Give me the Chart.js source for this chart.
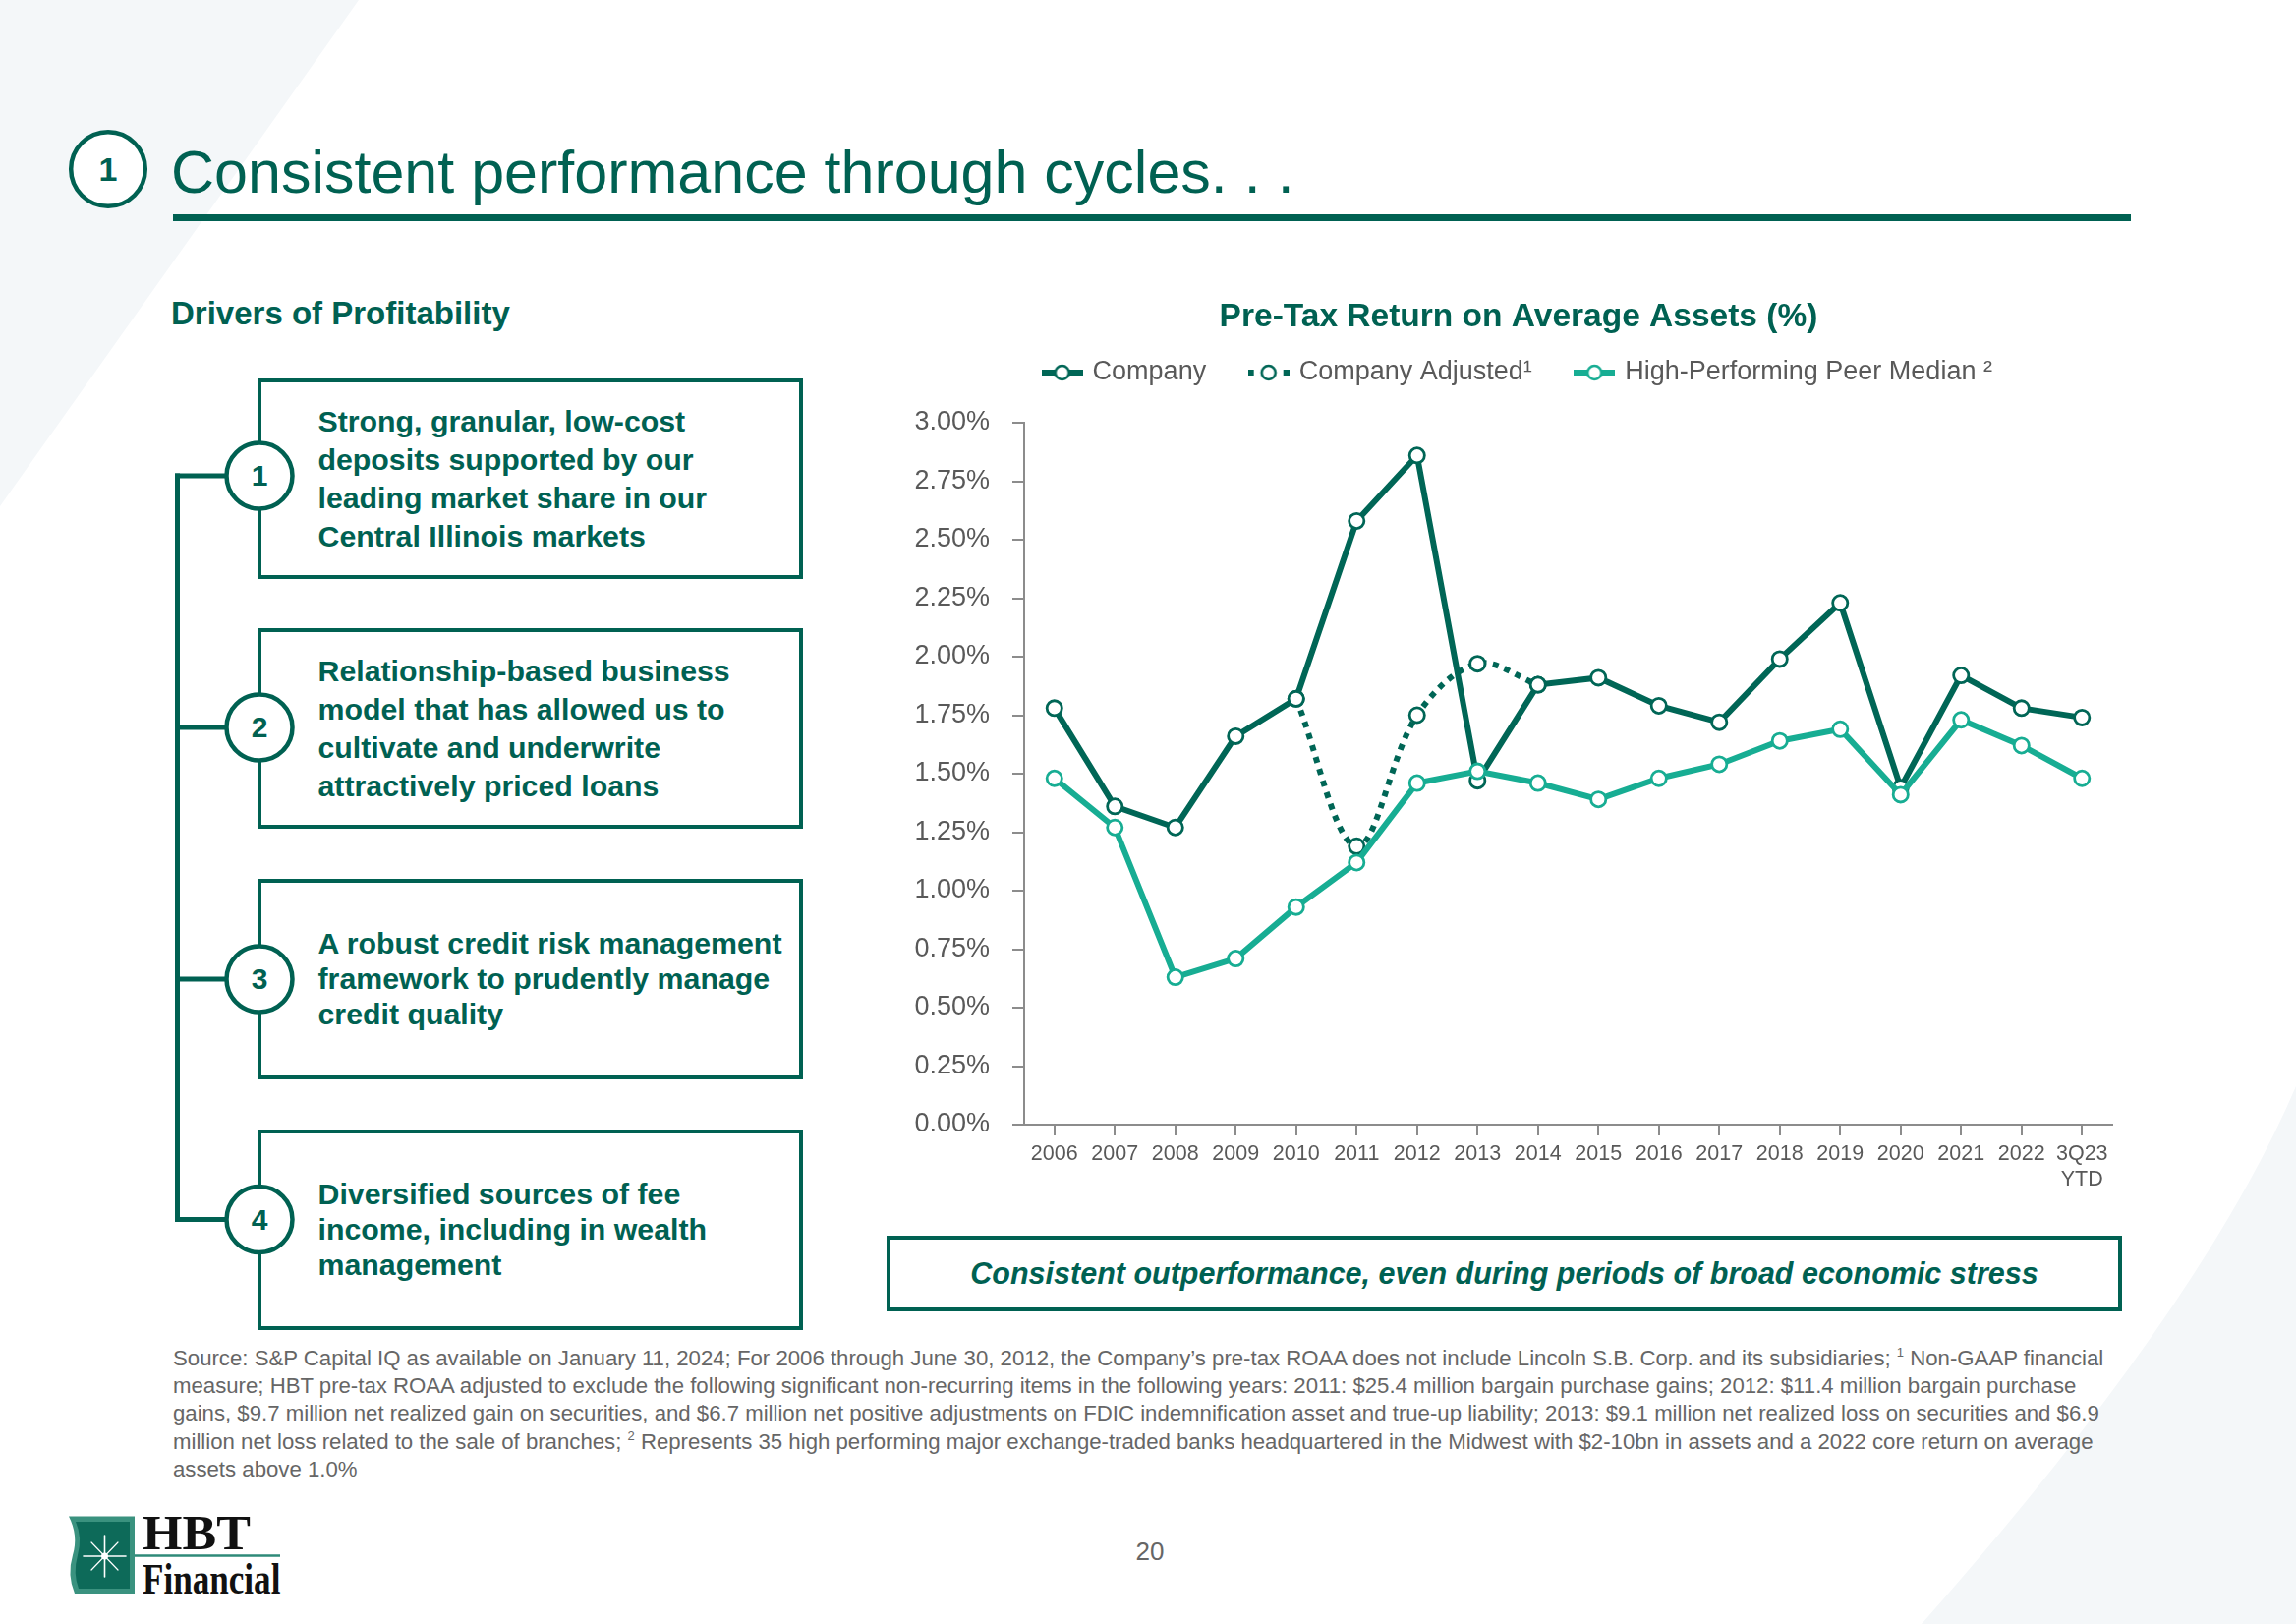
<!DOCTYPE html>
<html>
<head>
<meta charset="utf-8">
<title>Consistent performance through cycles</title>
<script src="https://cdn.jsdelivr.net/npm/chart.js@4/dist/chart.umd.min.js"></script>
<style>
  html, body { margin:0; padding:0; background:#ffffff; }
  #page { position:relative; width:2336px; height:1652px; overflow:hidden; background:#ffffff; font-family:"Liberation Sans", Arial, sans-serif; color:#006152; }
  .abs { position:absolute; }
  .title { left:174px; top:145px; font-size:61px; line-height:61px; white-space:nowrap; color:#006152; }
  .rule { left:176px; top:218px; width:1992px; height:7px; background:#006152; }
  .subhead { left:174px; top:302px; font-size:33px; line-height:33px; font-weight:bold; white-space:nowrap; color:#006152; }
  .driver { left:261.5px; width:555px; height:204px; box-sizing:border-box; border:4.5px solid #006152; background:#fff; display:flex; align-items:center; }
  .driver div { margin-left:58px; font-size:30.3px; font-weight:bold; white-space:nowrap; color:#006152; }
  .num { width:60px; height:40px; margin-left:-30px; margin-top:-20px; text-align:center; font-size:30px; line-height:40px; font-weight:bold; color:#006152; }
  .callout { left:902px; top:1257px; width:1257px; height:77px; box-sizing:border-box; border:4px solid #006152; display:flex; align-items:center; justify-content:center; font-size:30.5px; font-weight:bold; font-style:italic; color:#006152; white-space:nowrap; }
  .foot { left:176px; top:1368px; font-size:22.2px; line-height:28.2px; color:#666666; white-space:nowrap; }
  .foot sup { font-size:13px; line-height:0; vertical-align:9px; }
  .pageno { left:1130px; top:1565px; width:80px; text-align:center; font-size:26px; line-height:26px; color:#666666; }
  .logo1 { left:145px; top:1534px; font-family:"Liberation Serif", "Times New Roman", serif; font-weight:bold; font-size:51px; line-height:51px; color:#111; transform:scaleX(1.02); transform-origin:left top; white-space:nowrap; }
  .logo2 { left:145px; top:1584px; font-family:"Liberation Serif", "Times New Roman", serif; font-weight:bold; font-size:45px; line-height:45px; color:#111; transform:scaleX(0.78); transform-origin:left top; white-space:nowrap; }
  #chartWrap { left:900px; top:283px; width:1284px; height:931px; }
</style>
</head>
<body>
<div id="page">
  <svg class="abs" style="left:0;top:0" width="2336" height="1652">
    <polygon points="0,0 365,0 0,515" fill="#f4f7f9"/>
    <path d="M2336 1105 Q2240 1330 1955 1652 L2336 1652 Z" fill="#f4f7f9"/>
  </svg>

  <svg class="abs" style="left:0;top:0" width="300" height="260">
    <circle cx="110" cy="172" r="37.8" fill="#ffffff" stroke="#006152" stroke-width="4.5"/>
  </svg>
  <div class="abs" style="left:80px;top:152px;width:60px;text-align:center;font-size:34px;line-height:40px;font-weight:bold;color:#006152;">1</div>
  <div class="abs title">Consistent performance through cycles. . .</div>
  <div class="abs rule"></div>
  <div class="abs subhead">Drivers of Profitability</div>

  <div class="abs driver" style="top:385px;"><div style="line-height:39px;">Strong, granular, low-cost<br>deposits supported by our<br>leading market share in our<br>Central Illinois markets</div></div>
  <div class="abs driver" style="top:638.5px;"><div style="line-height:39px;">Relationship-based business<br>model that has allowed us to<br>cultivate and underwrite<br>attractively priced loans</div></div>
  <div class="abs driver" style="top:894px;"><div style="line-height:36px;">A robust credit risk management<br>framework to prudently manage<br>credit quality</div></div>
  <div class="abs driver" style="top:1148.5px;"><div style="line-height:36px;">Diversified sources of fee<br>income, including in wealth<br>management</div></div>

  <svg class="abs" style="left:0;top:0" width="340" height="1300">
    <line x1="180.5" y1="481.5" x2="180.5" y2="1243" stroke="#006152" stroke-width="5"/>
    <line x1="178" y1="484" x2="232" y2="484" stroke="#006152" stroke-width="5"/>
    <line x1="178" y1="740" x2="232" y2="740" stroke="#006152" stroke-width="5"/>
    <line x1="178" y1="996" x2="232" y2="996" stroke="#006152" stroke-width="5"/>
    <line x1="178" y1="1240.5" x2="232" y2="1240.5" stroke="#006152" stroke-width="5"/>
    <circle cx="264" cy="484" r="33.5" fill="#ffffff" stroke="#006152" stroke-width="4.5"/>
    <circle cx="264" cy="740" r="33.5" fill="#ffffff" stroke="#006152" stroke-width="4.5"/>
    <circle cx="264" cy="996" r="33.5" fill="#ffffff" stroke="#006152" stroke-width="4.5"/>
    <circle cx="264" cy="1240.5" r="33.5" fill="#ffffff" stroke="#006152" stroke-width="4.5"/>
  </svg>
  <div class="abs num" style="left:264px;top:484px;">1</div>
  <div class="abs num" style="left:264px;top:740px;">2</div>
  <div class="abs num" style="left:264px;top:996px;">3</div>
  <div class="abs num" style="left:264px;top:1240.5px;">4</div>

  <div class="abs" id="chartWrap"><canvas id="chart" width="1284" height="931"></canvas></div>

  <div class="abs callout">Consistent outperformance, even during periods of broad economic stress</div>

  <div class="abs foot">Source: S&amp;P Capital IQ as available on January 11, 2024; For 2006 through June 30, 2012, the Company’s pre-tax ROAA does not include Lincoln S.B. Corp. and its subsidiaries; <sup>1</sup> Non-GAAP financial<br>measure; HBT pre-tax ROAA adjusted to exclude the following significant non-recurring items in the following years: 2011: $25.4 million bargain purchase gains; 2012: $11.4 million bargain purchase<br>gains, $9.7 million net realized gain on securities, and $6.7 million net positive adjustments on FDIC indemnification asset and true-up liability; 2013: $9.1 million net realized loss on securities and $6.9<br>million net loss related to the sale of branches; <sup>2</sup> Represents 35 high performing major exchange-traded banks headquartered in the Midwest with $2-10bn in assets and a 2022 core return on average<br>assets above 1.0%</div>

  <div class="abs pageno">20</div>

  <svg class="abs" style="left:0;top:1500px" width="320" height="152">
    <path d="M70 42.5 L137 42.5 L137 121 L76 121 Q68 102 74 82 Q80 62 70 42.5 Z" fill="#3a927f"/>
    <path d="M77 48 L132 48 L132 116 L80 116 Q74 100 79 82 Q84 64 77 48 Z" fill="#0d6a59"/>
    <g stroke="#ffffff" stroke-linecap="round">
      <line x1="106.5" y1="62" x2="106.5" y2="104" stroke-width="1.6"/>
      <line x1="85" y1="83" x2="128" y2="83" stroke-width="1.6"/>
      <line x1="93" y1="69" x2="120" y2="97" stroke-width="1.2"/>
      <line x1="120" y1="69" x2="93" y2="97" stroke-width="1.2"/>
    </g>
    <circle cx="106.5" cy="83" r="3.5" fill="#ffffff"/>
    <line x1="137" y1="82.5" x2="285" y2="82.5" stroke="#2e8a78" stroke-width="2.5"/>
  </svg>
  <div class="abs logo1">HBT</div>
  <div class="abs logo2">Financial</div>
</div>

<script>
// ---- data ----
const categories = ['2006','2007','2008','2009','2010','2011','2012','2013','2014','2015','2016','2017','2018','2019','2020','2021','2022',['3Q23','YTD']];
const companyValues  = [1.78, 1.36, 1.27, 1.66, 1.82, 2.58, 2.86, 1.47, 1.88, 1.91, 1.79, 1.72, 1.99, 2.23, 1.44, 1.92, 1.78, 1.74];
const adjustedValues = [null, null, null, null, 1.82, 1.19, 1.75, 1.97, 1.88, null, null, null, null, null, null, null, null, null];
const peerValues     = [1.48, 1.27, 0.63, 0.71, 0.93, 1.12, 1.46, 1.51, 1.46, 1.39, 1.48, 1.54, 1.64, 1.69, 1.41, 1.73, 1.62, 1.48];
const seriesNames = ['Company', 'Company Adjusted\u00B9', 'High-Performing Peer Median \u00B2'];
const chartTitle = 'Pre-Tax Return on Average Assets (%)';
const yMin = 0, yMax = 3, yStep = 0.25;

// ---- style ----
const DARK = '#006656';
const TEAL = '#17ad93';
const AXIS = '#8c8c8c';
const LABEL = '#595959';
const FONT = "'Liberation Sans', Arial, sans-serif";

function makeMarker(color, dotted) {
  const c = document.createElement('canvas');
  c.width = 42; c.height = 20;
  const g = c.getContext('2d');
  g.fillStyle = color;
  if (dotted) { g.fillRect(0, 7, 6, 6); g.fillRect(36, 7, 6, 6); }
  else { g.fillRect(0, 7, 42, 6); }
  g.beginPath();
  g.arc(21, 10, 7, 0, Math.PI * 2);
  g.fillStyle = '#ffffff';
  g.fill();
  g.lineWidth = 2.6;
  g.strokeStyle = color;
  g.stroke();
  return c;
}
const legendMarkers = [makeMarker(DARK, false), makeMarker(DARK, true), makeMarker(TEAL, false)];

const pointStyle = (color) => ({
  pointRadius: 7.6,
  pointHoverRadius: 7.6,
  pointBorderWidth: 2.8,
  pointBackgroundColor: '#ffffff',
  pointBorderColor: color
});

new Chart(document.getElementById('chart'), {
  type: 'line',
  data: {
    labels: categories,
    datasets: [
      Object.assign({ label: seriesNames[0], data: companyValues, borderColor: DARK, borderWidth: 6, tension: 0, order: 2 }, pointStyle(DARK)),
      Object.assign({ label: seriesNames[1], data: adjustedValues, borderColor: DARK, borderWidth: 6, borderDash: [6, 6.5], borderCapStyle: 'butt', tension: 0.35, spanGaps: false, order: 1 }, pointStyle(DARK)),
      Object.assign({ label: seriesNames[2], data: peerValues, borderColor: TEAL, borderWidth: 6, tension: 0, order: 0 }, pointStyle(TEAL))
    ]
  },
  options: {
    responsive: false,
    maintainAspectRatio: false,
    animation: false,
    events: [],
    layout: { padding: { left: 29, right: 23, top: 0, bottom: 0 } },
    plugins: {
      tooltip: { enabled: false },
      title: {
        display: true,
        text: chartTitle,
        color: '#006152',
        font: { family: FONT, size: 33.5, weight: 'bold', lineHeight: 1.2 },
        padding: { top: 20, bottom: -23.7 }
      },
      subtitle: {
        display: true,
        text: '',
        weight: 500,
        font: { family: FONT, size: 1, lineHeight: 1 },
        padding: { top: 26.5, bottom: 0 }
      },
      legend: {
        display: true,
        position: 'top',
        labels: {
          usePointStyle: true,
          pointStyleWidth: 35,
          padding: 46,
          color: LABEL,
          font: { family: FONT, size: 27 },
          generateLabels: (chart) => chart.data.datasets.map((ds, i) => ({
            text: ds.label,
            pointStyle: legendMarkers[i],
            fillStyle: 'rgba(0,0,0,0)',
            strokeStyle: 'rgba(0,0,0,0)',
            lineWidth: 0,
            fontColor: LABEL,
            hidden: false,
            datasetIndex: i
          }))
        }
      }
    },
    scales: {
      x: {
        type: 'category',
        offset: true,
        grid: { display: true, drawOnChartArea: false, drawTicks: true, tickLength: 11, color: AXIS, lineWidth: 2, offset: false },
        border: { display: true, color: AXIS, width: 2 },
        ticks: { autoSkip: false, maxRotation: 0, minRotation: 0, padding: 6.6, color: LABEL, font: { family: FONT, size: 21.5, lineHeight: 1.2 } },
        afterFit: (scale) => { scale.height = 70; }
      },
      y: {
        min: yMin,
        max: yMax,
        grid: { display: true, drawOnChartArea: false, drawTicks: true, tickLength: 12, color: AXIS, lineWidth: 2 },
        border: { display: true, color: AXIS, width: 2 },
        ticks: { stepSize: yStep, padding: 23, color: LABEL, font: { family: FONT, size: 27 }, callback: (v) => v.toFixed(2) + '%' },
        afterFit: (scale) => { scale.width = 113; }
      },
      yRightGap: {
        position: 'right',
        display: true,
        min: yMin,
        max: yMax,
        grid: { display: false, drawTicks: false },
        border: { display: false },
        ticks: { display: false },
        afterFit: (scale) => { scale.width = 12; }
      }
    }
  }
});
</script>
</body>
</html>
